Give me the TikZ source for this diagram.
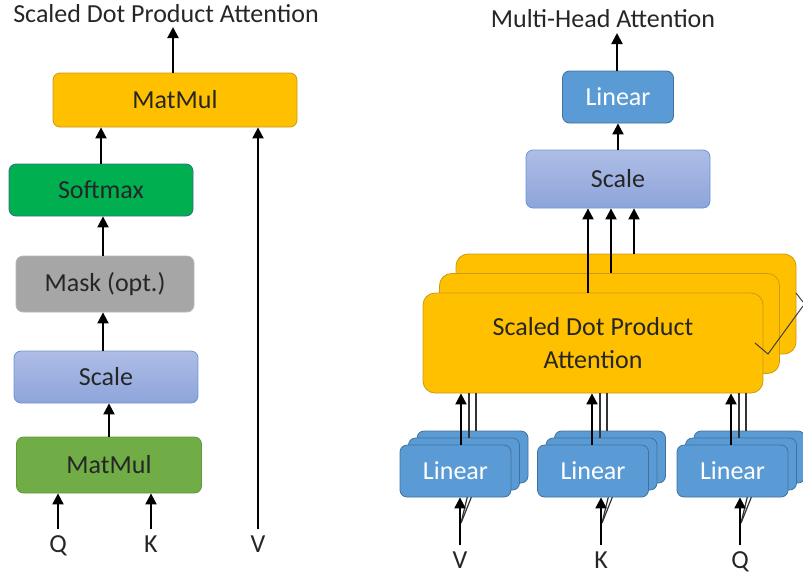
\documentclass[tikz,border=0pt]{standalone}
\usepackage{fontspec}
\setmainfont{Carlito}
\usetikzlibrary{arrows.meta,positioning,calc}

\definecolor{matOrange}{HTML}{FFC000}
\definecolor{matOrangeEdge}{HTML}{C99A14}
\definecolor{softGreen}{HTML}{00B050}
\definecolor{softGreenEdge}{HTML}{3A6B8C}
\definecolor{maskGrey}{HTML}{A6A6A6}
\definecolor{maskGreyEdge}{HTML}{B8B8B8}
\definecolor{scaleTop}{HTML}{AEBDE6}
\definecolor{scaleBot}{HTML}{8DA5DA}
\definecolor{scaleEdge}{HTML}{6B94D6}
\definecolor{mmGreen}{HTML}{70AD47}
\definecolor{mmGreenEdge}{HTML}{5E9A3B}
\definecolor{linBlue}{HTML}{5B9BD5}
\definecolor{linBlueEdge}{HTML}{41719C}
\definecolor{textGrey}{HTML}{262626}

\tikzset{
  box/.style={rectangle, rounded corners=7pt, draw, line width=0.8pt, text=textGrey,
    font=\fontsize{26}{33}\selectfont, align=center},
  sdpabox/.style={box, fill=matOrange, draw=matOrangeEdge, minimum width=340pt, minimum height=100pt, rounded corners=12pt},
  scalebox/.style={box, top color=scaleTop, bottom color=scaleBot, draw=scaleEdge},
  linbox/.style={box, fill=linBlue, draw=linBlueEdge, text=white, minimum width=111pt, minimum height=52pt,
    font=\fontsize{26}{30}\selectfont},
  lab/.style={text=textGrey, font=\fontsize{26}{30}\selectfont, text height=17pt, text depth=0pt, inner xsep=2pt, inner ysep=2pt},
  arr/.style={-{Triangle[width=11pt,length=11pt]}, line width=2pt, black},
  thinline/.style={line width=1.2pt, draw=black!80},
}

\begin{document}
\begin{tikzpicture}[x=1pt, y=-1pt]
  \useasboundingbox (0,0) rectangle (803,574);

  % Scaled dot product attention
  \node[lab] (titleL) at (166,14) {Scaled Dot Product Attention};
  \node[box, fill=matOrange, draw=matOrangeEdge, minimum width=244pt, minimum height=54pt] (mmTop) at (175,100) {MatMul};
  \node[box, fill=softGreen, draw=softGreenEdge, minimum width=184pt, minimum height=52pt] (softmax) at (101,190) {Softmax};
  \node[box, fill=maskGrey, draw=maskGreyEdge, minimum width=178pt, minimum height=56pt] (mask) at (105,284) {Mask (opt.)};
  \node[scalebox, minimum width=184pt, minimum height=52pt] (scaleL) at (106,377) {Scale};
  \node[box, fill=mmGreen, draw=mmGreenEdge, minimum width=185pt, minimum height=56pt] (mmBot) at (109,465) {MatMul};

  \node[lab] (qL) at (58,544) {Q};
  \node[lab] (kL) at (151,544) {K};
  \node[lab] (vL) at (258,544) {V};
  \coordinate (outL) at (173,27);

  \draw[arr, shorten <=4pt] (qL.north) -- (qL.north |- mmBot.south);
  \draw[arr, shorten <=4pt] (kL.north) -- (kL.north |- mmBot.south);
  \draw[arr, shorten <=4pt] (vL.north) -- (vL.north |- mmTop.south);
  \draw[arr] (mmBot.north) -- (mmBot.north |- scaleL.south);
  \draw[arr] ([xshift=-3pt]scaleL.north) -- ([xshift=-3pt]scaleL.north |- mask.south);
  \draw[arr] ([xshift=-2pt]mask.north) -- ([xshift=-2pt]mask.north |- softmax.south);
  \draw[arr] (softmax.north) -- (softmax.north |- mmTop.south);
  \draw[arr] (mmTop.north -| outL) -- (outL);

  % Multi-head attention
  \node[lab] (titleR) at (603,19) {Multi-Head Attention};
  \node[linbox] (linTop) at (618,97) {Linear};
  \node[scalebox, minimum width=184pt, minimum height=58pt] (scaleR) at (618,179) {Scale};
  \coordinate (outR) at (617,33);

  \node[sdpabox] (sdpa3) at (626,304) {};
  \node[sdpabox] (sdpa2) at (609.5,323.5) {};
  \node[sdpabox] (sdpa1) at (593,343) {Scaled Dot Product\\Attention};
  \draw[line width=1pt, black!75] (755,343) -- (768,354) -- (803,306);
  \draw[line width=1pt, black!75] (796,293) -- (803,302);

  \draw[arr] (outR |- linTop.north) -- (outR);
  \draw[arr] (scaleR.north) -- (linTop.south);
  \draw[arr] (588,0 |- sdpa1.north) -- (588,0 |- scaleR.south);
  \draw[arr] (611,0 |- sdpa2.north) -- (611,0 |- scaleR.south);
  \draw[arr] (634,0 |- sdpa3.north) -- (634,0 |- scaleR.south);

  % linear projections for V, K, Q
  \foreach \n/\cx/\tx/\bx in {V/455.5/461/460, K/593/592/601, Q/732.5/731/740} {
    \draw[thinline] ({\bx+1},523) -- ({\bx+9},490);
    \draw[thinline] ({\bx+1},523) -- ({\bx+17},483);
    \node[linbox] (lin\n3) at ({\cx+17},457) {};
    \node[linbox] (lin\n2) at ({\cx+8.5},464) {};
    \node[linbox] (lin\n1) at (\cx,471) {Linear};
    \node[lab] (in\n) at (\bx,560) {\n};
    \draw[arr, shorten <=4pt] (in\n.north) -- (in\n.north |- lin\n1.south);
    \draw[arr] (\tx,0 |- lin\n1.north) -- (\tx,0 |- sdpa1.south);
    \draw[thinline] ({\tx+8},0 |- lin\n2.north) -- ({\tx+8},0 |- sdpa1.south);
    \draw[thinline] ({\tx+15},0 |- lin\n3.north) -- ({\tx+15},0 |- sdpa1.south);
  }
\end{tikzpicture}
\end{document}
